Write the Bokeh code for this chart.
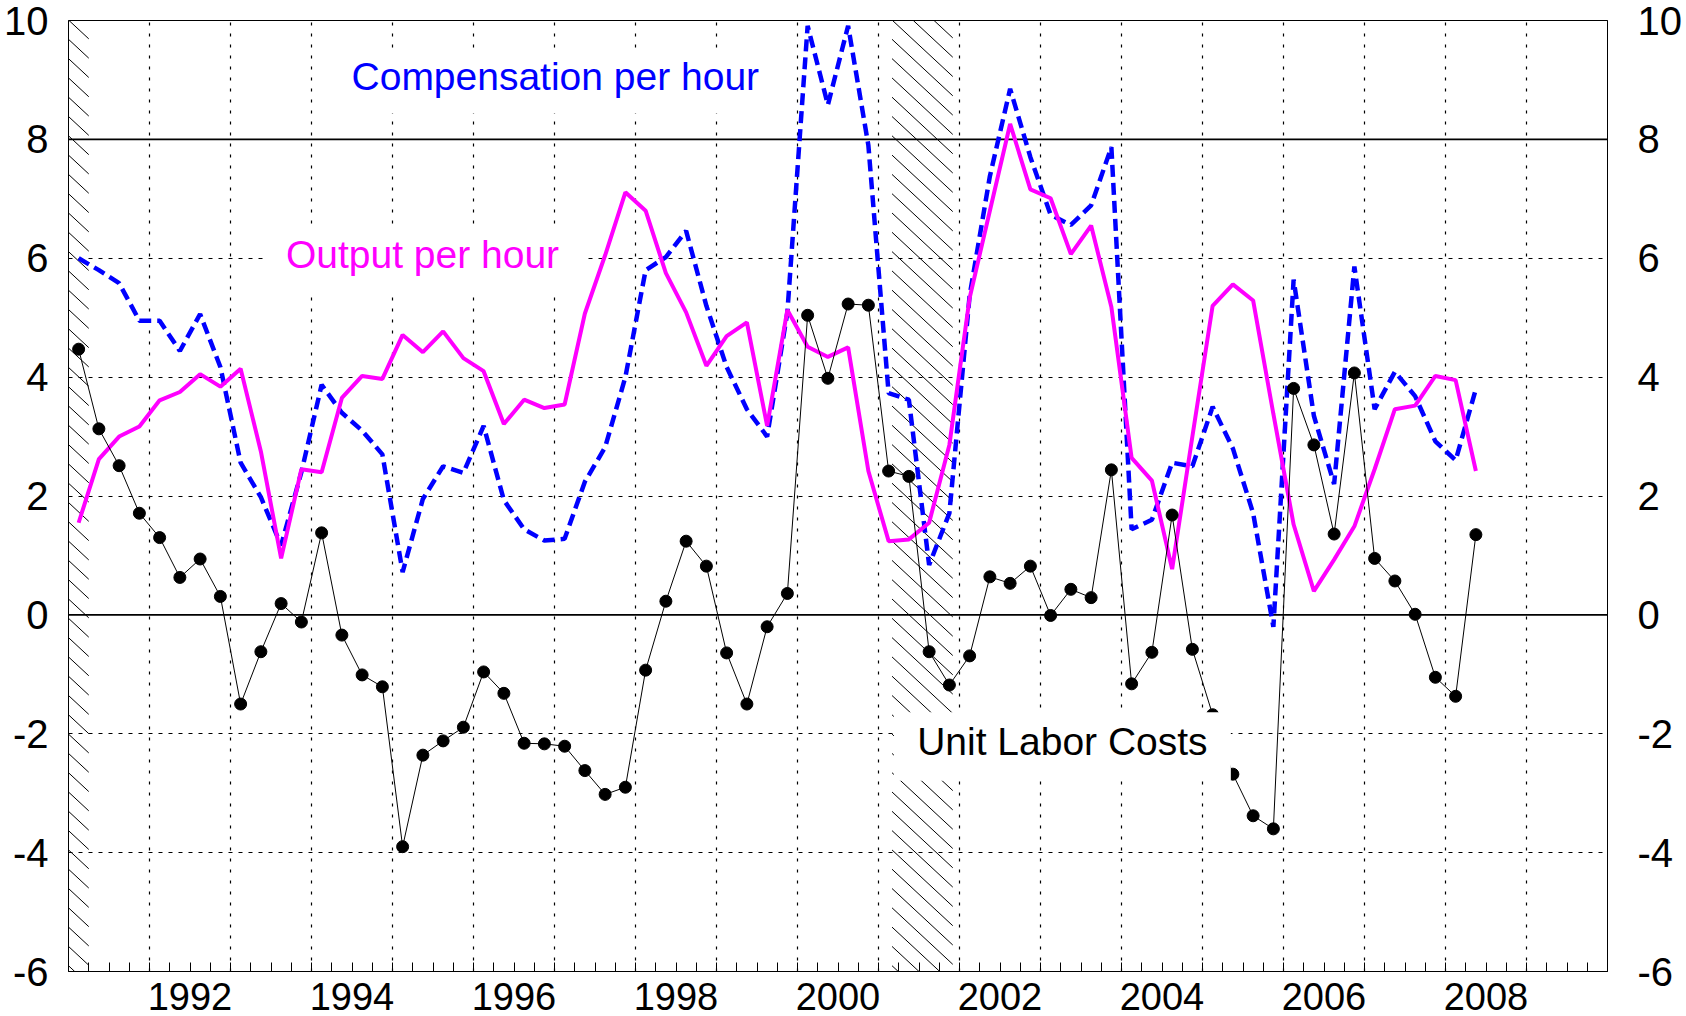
from bokeh.plotting import figure
from bokeh.models import (Range1d, LinearAxis, FixedTicker, BoxAnnotation, Label, Span)
from bokeh.embed import file_html
from bokeh.resources import INLINE

# ---------------- data (quarterly, % change, 1991Q1 .. 2008Q2) ----------------
start_year = 1991

unit_labor_costs = [
    4.47, 3.13, 2.51, 1.71,
    1.30, 0.63, 0.94, 0.31,
    -1.50, -0.62, 0.19, -0.12,
    1.38, -0.34, -1.01, -1.21,
    -3.90, -2.36, -2.12, -1.89,
    -0.96, -1.32, -2.16, -2.17,
    -2.21, -2.62, -3.02, -2.90,
    -0.93, 0.23, 1.24, 0.82,
    -0.64, -1.50, -0.20, 0.36,
    5.04, 3.98, 5.23, 5.21,
    2.42, 2.33, -0.62, -1.18,
    -0.69, 0.64, 0.53, 0.82,
    -0.01, 0.43, 0.29, 2.44,
    -1.16, -0.63, 1.68, -0.58,
    -1.68, -2.68, -3.38, -3.60,
    3.81, 2.86, 1.36, 4.07,
    0.95, 0.57, 0.01, -1.05,
    -1.37, 1.35,
]

output_per_hour = [
    1.55, 2.62, 3.00, 3.17,
    3.61, 3.75, 4.05, 3.84,
    4.14, 2.75, 0.95, 2.45,
    2.40, 3.65, 4.02, 3.97,
    4.71, 4.42, 4.77, 4.32,
    4.10, 3.21, 3.62, 3.48,
    3.54, 5.07, 6.05, 7.11,
    6.80, 5.75, 5.09, 4.19,
    4.69, 4.92, 3.18, 5.13,
    4.51, 4.34, 4.50, 2.42,
    1.24, 1.27, 1.55, 2.86,
    5.33, 6.80, 8.26, 7.16,
    7.01, 6.07, 6.55, 5.18,
    2.64, 2.26, 0.77, 3.00,
    5.20, 5.56, 5.29, 3.38,
    1.52, 0.40, 0.93, 1.49,
    2.45, 3.46, 3.52, 4.02,
    3.95, 2.42,
]

compensation_per_hour = [
    6.00, 5.80, 5.58, 4.95,
    4.95, 4.44, 5.06, 4.17,
    2.56, 1.98, 1.17, 2.40,
    3.87, 3.40, 3.10, 2.70,
    0.72, 1.95, 2.50, 2.39,
    3.18, 1.93, 1.44, 1.25,
    1.28, 2.24, 2.82, 4.00,
    5.80, 6.02, 6.46, 5.20,
    4.17, 3.46, 3.00, 5.09,
    9.91, 8.58, 9.91, 7.90,
    3.73, 3.62, 0.84, 1.71,
    5.37, 7.38, 8.85, 7.70,
    6.73, 6.56, 6.89, 7.87,
    1.44, 1.60, 2.56, 2.50,
    3.50, 2.80, 1.71, -0.20,
    5.64, 3.35, 2.20, 5.86,
    3.46, 4.09, 3.68, 2.92,
    2.60, 3.80,
]

recessions = [(1990.5, 1991.25), (2001.167, 2001.917)]
year_labels = [1992, 1994, 1996, 1998, 2000, 2002, 2004, 2006, 2008]
year_grid = list(range(1992, 2010))
y_ticks = [-6, -4, -2, 0, 2, 4, 6, 8, 10]
y_dashed = [-4, -2, 2, 4, 6]
y_solid = [0, 8]

X0, X1 = 1991, 2010
Y0, Y1 = -6, 10

# quarter mid-points as decimal years
quarters = [start_year + (i + 0.5) / 4 for i in range(len(unit_labor_costs))]
quarter_ticks = [X0 + i / 4 for i in range(1, 4 * (X1 - X0))]

FONT = "Liberation Sans"
FRAME_W, FRAME_H = 1539, 951

p = figure(width=1686, height=1016,
           x_range=Range1d(X0, X1), y_range=Range1d(Y0, Y1),
           output_backend="svg", toolbar_location=None,
           min_border_left=68, min_border_right=79,
           min_border_top=20, min_border_bottom=45)
p.background_fill_color = "white"
p.border_fill_color = "white"
p.outline_line_color = "black"
p.outline_line_width = 1

# x axis: labels centred in the year, quarterly inner ticks
xa = p.xaxis[0]
xa.ticker = FixedTicker(ticks=[y + 0.5 for y in year_labels], minor_ticks=quarter_ticks)
xa.major_label_overrides = {y + 0.5: str(y) for y in year_labels}
xa.major_tick_line_color = None
xa.minor_tick_in = 9
xa.minor_tick_out = 0
xa.minor_tick_line_color = "black"
xa.axis_line_color = "black"
xa.major_label_text_font = FONT
xa.major_label_text_font_size = "38px"
xa.major_label_text_color = "black"
xa.major_label_standoff = 5
xa.major_label_text_line_height = 0.8

# y axes (hyphen as minus sign, like the original)
labels_y = {v: str(v) for v in y_ticks}

def style_y(ax, standoff):
    ax.ticker = FixedTicker(ticks=y_ticks)
    ax.major_label_overrides = labels_y
    ax.major_tick_line_color = None
    ax.major_tick_out = 0
    ax.major_tick_in = 0
    ax.minor_tick_line_color = None
    ax.minor_tick_out = 0
    ax.axis_line_color = "black"
    ax.major_label_text_font = FONT
    ax.major_label_text_font_size = "40px"
    ax.major_label_text_color = "black"
    ax.major_label_standoff = standoff

style_y(p.yaxis[0], 20)
yr = LinearAxis()
style_y(yr, 30)
p.add_layout(yr, "right")

# grids
p.xgrid.ticker = FixedTicker(ticks=year_grid)
p.xgrid.grid_line_color = "black"
p.xgrid.grid_line_dash = "3 8"
p.xgrid.grid_line_width = 1.2
p.ygrid.ticker = FixedTicker(ticks=y_dashed)
p.ygrid.grid_line_color = "black"
p.ygrid.grid_line_dash = "4 6"
p.ygrid.grid_line_width = 1
for v in y_solid:
    p.add_layout(Span(location=v, dimension="width", line_color="black", line_width=1.7,
                      level="underlay"))

# recession hatching: "\" lines, ~19 px apart, drawn in data space
px_x = FRAME_W / (X1 - X0)
px_y = FRAME_H / (Y1 - Y0)
k = 0.93 * px_x / px_y          # data-y drop per data-x
dy = 19.3 / px_y                # vertical spacing in data units
hx0, hy0, hx1, hy1 = [], [], [], []
for a, b in recessions:
    a, b = max(a, X0), min(b, X1)
    drop = k * (b - a)
    c = Y0 + dy * 0.3
    while c < Y1 + drop:
        xs, ys, xe, ye = a, c, b, c - drop
        if ys > Y1:
            xs, ys = a + (ys - Y1) / k, Y1
        if ye < Y0:
            xe, ye = a + (c - Y0) / k, Y0
        if xe > xs:
            hx0.append(xs); hy0.append(ys); hx1.append(xe); hy1.append(ye)
        c += dy
p.segment(hx0, hy0, hx1, hy1, line_color="black", line_width=1, level="underlay")

# series
p.line(quarters, compensation_per_hour, line_color="#0000FF", line_width=4.5,
       line_dash="12 6")
p.line(quarters, output_per_hour, line_color="#FF00FF", line_width=4)
p.line(quarters, unit_labor_costs, line_color="black", line_width=1)
p.scatter(quarters, unit_labor_costs, marker="circle", size=12, fill_color="black",
          line_color="black")

# labels with white backgrounds
def boxed_label(text, color, x, y, box):
    l, r, t, b = box
    p.add_layout(BoxAnnotation(left=l, right=r, top=t, bottom=b, fill_color="white",
                               fill_alpha=1, line_color=None))
    p.add_layout(Label(x=x, y=y, text=text, text_color=color, text_font=FONT,
                       text_font_size="39px", text_align="center",
                       text_baseline="alphabetic"))

boxed_label("Compensation per hour", "#0000FF", 1997.01, 9.06,
            (1994.23, 1999.85, 9.50, 8.44))
boxed_label("Output per hour", "#FF00FF", 1995.37, 6.07,
            (1993.41, 1997.40, 6.52, 5.46))
boxed_label("Unit Labor Costs", "black", 2003.27, -2.135,
            (2001.19, 2005.35, -1.64, -2.79))

open("out.html", "w").write(file_html(p, INLINE))
